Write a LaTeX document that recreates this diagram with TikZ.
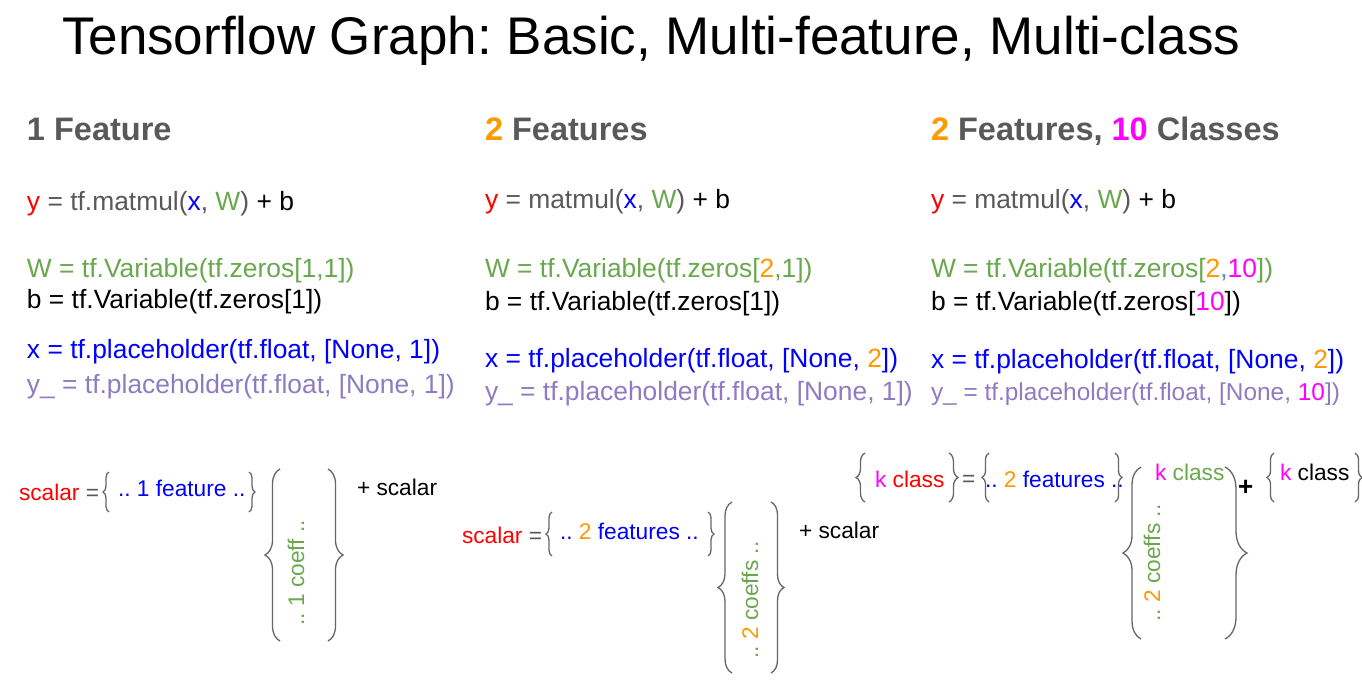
\documentclass[tikz,border=0pt]{standalone}
\usepackage{fontspec}
\setmainfont{Liberation Sans}
\usetikzlibrary{decorations.pathreplacing}
\definecolor{tfred}{HTML}{FF0000}
\definecolor{tfgrey}{HTML}{595959}
\definecolor{tfblue}{HTML}{0000FF}
\definecolor{tfgreen}{HTML}{6AA84F}
\definecolor{tforange}{HTML}{FF9900}
\definecolor{tfmag}{HTML}{FF00FF}
\definecolor{tfpurple}{HTML}{8E7CC3}
\definecolor{tfbrace}{HTML}{666666}
\definecolor{tfcomma}{HTML}{4A86E8}
\frenchspacing
\begin{document}
\begin{tikzpicture}[x=1pt,y=-1pt,
  txt/.style={anchor=base west, inner sep=0pt, outer sep=0pt},
  titlef/.style={font=\fontsize{53}{60}\selectfont},
  headf/.style={font=\fontsize{32.5}{38}\selectfont\bfseries, text=tfgrey},
  codef/.style={font=\fontsize{26.4}{32}\selectfont},
  smallcode/.style={font=\fontsize{24.4}{30}\selectfont},
  labf/.style={font=\fontsize{22.7}{28}\selectfont},
  rot/.style={labf, rotate=90, inner sep=0pt, anchor=center},
  brc/.style={draw=tfbrace, line width=1.3pt, decorate, decoration={brace, amplitude=#1}}
]
\useasboundingbox (0,0) rectangle (1362,690);
\fill[white] (0,0) rectangle (1362,690);

% title
\node[txt, titlef] (title) at (62,55) {Tensorflow Graph: Basic, Multi-feature, Multi-class};

% headings
\node[txt, headf] (h1) at (27,140) {1 Feature};
\node[txt, headf] (h2) at (485,140) {\textcolor{tforange}{2} Features};
\node[txt, headf] (h3) at (931,140) {\textcolor{tforange}{2} Features, \textcolor{tfmag}{10} Classes};

% column 1 code
\node[txt, codef] (a1) at (27,210) {\textcolor{tfred}{y} \textcolor{tfgrey}{= tf.matmul(}\textcolor{tfblue}{x}\textcolor{tfgrey}{,} \textcolor{tfgreen}{W}\textcolor{tfgrey}{)} + b};
\node[txt, codef, text=tfgreen] (a2) at (27,277) {W = tf.Variable(tf.zeros[1,1])};
\node[txt, codef] (a3) at (27,308) {b = tf.Variable(tf.zeros[1])};
\node[txt, codef, text=tfblue] (a4) at (27,358) {x = tf.placeholder(tf.float, [None, 1])};
\node[txt, codef, text=tfpurple] (a5) at (27,393) {y\_ = tf.placeholder(tf.float, [None, 1])};

% column 2 code
\node[txt, codef] (b1) at (485,208) {\textcolor{tfred}{y} \textcolor{tfgrey}{= matmul(}\textcolor{tfblue}{x}\textcolor{tfgrey}{,} \textcolor{tfgreen}{W}\textcolor{tfgrey}{)} + b};
\node[txt, codef, text=tfgreen] (b2) at (485,277) {W = tf.Variable(tf.zeros[\textcolor{tforange}{2},1])};
\node[txt, codef] (b3) at (485,310) {b = tf.Variable(tf.zeros[1])};
\node[txt, codef, text=tfblue] (b4) at (485,367) {x = tf.placeholder(tf.float, [None, \textcolor{tforange}{2}])};
\node[txt, codef, text=tfpurple] (b5) at (485,400) {y\_ = tf.placeholder(tf.float, [None, 1])};

% column 3 code
\node[txt, codef] (c1) at (931,208) {\textcolor{tfred}{y} \textcolor{tfgrey}{= matmul(}\textcolor{tfblue}{x}\textcolor{tfgrey}{,} \textcolor{tfgreen}{W}\textcolor{tfgrey}{)} + b};
\node[txt, codef, text=tfgreen] (c2) at (931,277) {W = tf.Variable(tf.zeros[\textcolor{tforange}{2}\textcolor{tfcomma}{,}\textcolor{tfmag}{10}])};
\node[txt, codef] (c3) at (931,310) {b = tf.Variable(tf.zeros[\textcolor{tfmag}{10}])};
\node[txt, codef, text=tfblue] (c4) at (931,368) {x = tf.placeholder(tf.float, [None, \textcolor{tforange}{2}])};
\node[txt, smallcode, text=tfpurple] (c5) at (931,400) {y\_ = tf.placeholder(tf.float, [None, \textcolor{tfmag}{10}])};

% column 1 diagram
\node[txt, labf] (s1) at (19,500) {\textcolor{tfred}{scalar} \textcolor{tfgrey}{=}};
\draw[brc=6] (109,512) -- (109,472);
\node[txt, labf, text=tfblue] (f1) at (118,496) {.. 1 feature ..};
\draw[brc=6] (249,472) -- (249,512);
\draw[brc=15] (280,641) -- (280,469);
\draw[brc=15] (328,469) -- (328,641);
\node[rot, text=tfgreen] (k1) at (296,573) {.. 1 coeff ..};
\node[txt, labf] (p1) at (357,495) {+ scalar};

% column 2 diagram
\node[txt, labf] (s2) at (462,543) {\textcolor{tfred}{scalar} \textcolor{tfgrey}{=}};
\draw[brc=6] (552,556) -- (552,512);
\node[txt, labf, text=tfblue] (f2) at (560,539) {.. \textcolor{tforange}{2} features ..};
\draw[brc=6] (708,512) -- (708,556);
\draw[brc=14] (732,673) -- (732,502);
\draw[brc=13] (771,502) -- (771,673);
\node[rot, text=tfgreen] (k2) at (750,600) {.. \textcolor{tforange}{2} coeffs ..};
\node[txt, labf] (p2) at (799,538) {+ scalar};

% column 3 diagram
\draw[brc=9] (865,502) -- (865,453);
\node[txt, labf] (o3) at (875,487) {\textcolor{tfmag}{k} \textcolor{tfred}{class}};
\draw[brc=9] (949,453) -- (949,502);
\node[txt, labf, text=tfgrey] (e3) at (962,486) {=};
\draw[brc=7] (989,502) -- (989,453);
\node[txt, labf, text=tfblue] (f3) at (985,487) {.. \textcolor{tforange}{2} features ..};
\draw[brc=7] (1115,453) -- (1115,502);
\draw[brc=18] (1141,639) -- (1141,467);
\draw[brc=22] (1225,467) -- (1225,639);
\node[txt, labf] (w3) at (1155,480) {\textcolor{tfmag}{k} \textcolor{tfgreen}{class}};
\node[rot, text=tfgreen] (k3) at (1152,563) {.. \textcolor{tforange}{2} coeffs ..};
\node[txt, font=\fontsize{26}{30}\selectfont\bfseries] (pl3) at (1238,495) {+};
\draw[brc=7] (1274,502) -- (1274,453);
\node[txt, labf] (bb3) at (1280,480) {\textcolor{tfmag}{k} class};
\draw[brc=7] (1355,453) -- (1355,502);
\end{tikzpicture}
\end{document}
